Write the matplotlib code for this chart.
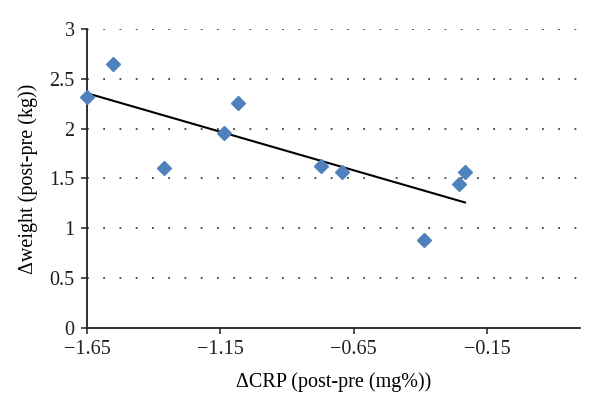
import numpy as np
import matplotlib.pyplot as plt

# Delta CRP vs delta weight
crp = [-1.65, -1.554, -1.362, -1.136, -1.084, -0.774, -0.695, -0.385, -0.254, -0.232]
weight = [2.32, 2.65, 1.60, 1.955, 2.26, 1.62, 1.56, 0.88, 1.44, 1.56]
x_ticks = [-1.65, -1.15, -0.65, -0.15]
y_ticks = [0, 0.5, 1, 1.5, 2, 2.5, 3]

plt.rcParams["font.family"] = ["Liberation Serif", "DejaVu Serif"]

fig = plt.figure(figsize=(6, 4.12), dpi=100)
ax = fig.add_axes([0.145, 0.204, 0.822, 0.726])

# dotted horizontal gridlines
for y in y_ticks[1:]:
    ax.axhline(y, color="#404040", linestyle=(0, (1, 8)), linewidth=1.3, zorder=0)

ax.plot(crp, weight, linestyle="none", marker="D", markersize=7,
        color="#4F81BD", markeredgecolor="#4F81BD", zorder=3, clip_on=False)

# linear trendline across the data range
slope, intercept = np.polyfit(crp, weight, 1)
tx = np.array([min(crp), max(crp)])
ax.plot(tx, slope * tx + intercept, color="black", linewidth=1.5, zorder=2)

ax.set_xlim(-1.65, 0.2)
ax.set_ylim(0, 3)
ax.set_xticks(x_ticks)
ax.set_xticklabels(["\u22121.65", "\u22121.15", "\u22120.65", "\u22120.15"])
ax.set_yticks(y_ticks)
ax.set_yticklabels(["0", "0.5", "1", "1.5", "2", "2.5", "3"])

for side in ["top", "right"]:
    ax.spines[side].set_visible(False)
for side in ["left", "bottom"]:
    ax.spines[side].set_linewidth(1.3)
    ax.spines[side].set_color("#202020")

ax.tick_params(axis="both", direction="out", length=4, width=1.1,
               labelsize=14.5, colors="#202020")
ax.tick_params(axis="x", pad=5)
ax.tick_params(axis="y", pad=5)

ax.set_xlabel("\u0394CRP (post-pre (mg%))", fontsize=14.5, labelpad=9)
ax.set_ylabel("\u0394weight (post-pre (kg))", fontsize=14.5, labelpad=8)

fig.savefig("out.png", dpi=100)
